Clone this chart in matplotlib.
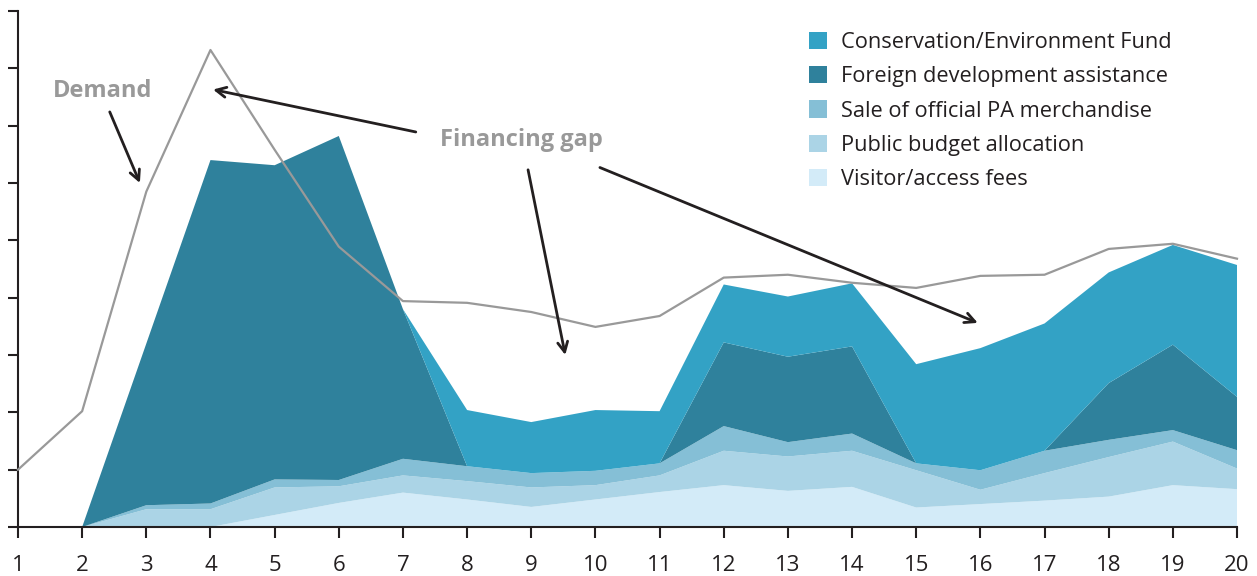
import matplotlib
matplotlib.use("Agg")
import matplotlib.pyplot as plt
from matplotlib.patches import Patch

plt.rcParams['font.family'] = ['Open Sans', 'DejaVu Sans']

years = list(range(1, 21))
demand = [1.00, 2.02, 5.85, 8.32, 6.58, 4.89, 3.94, 3.91, 3.75, 3.49,
          3.68, 4.35, 4.40, 4.26, 4.17, 4.38, 4.40, 4.85, 4.94, 4.68]
visitor = [0, 0, 0, 0, 0.21, 0.42, 0.60, 0.48, 0.35, 0.48,
           0.61, 0.73, 0.63, 0.70, 0.34, 0.40, 0.46, 0.53, 0.73, 0.66]
public = [0, 0, 0.31, 0.31, 0.48, 0.29, 0.30, 0.32, 0.34, 0.25,
          0.29, 0.60, 0.60, 0.63, 0.65, 0.25, 0.48, 0.69, 0.76, 0.36]
sale = [0, 0, 0.07, 0.10, 0.14, 0.11, 0.29, 0.26, 0.25, 0.25,
        0.21, 0.43, 0.25, 0.30, 0.12, 0.34, 0.39, 0.30, 0.20, 0.32]
foreign = [0, 0, 2.82, 5.99, 5.48, 6.00, 2.61, 0, 0, 0,
           0, 1.46, 1.49, 1.52, 0, 0, 0, 0.99, 1.49, 0.93]
conservation = [0, 0, 0, 0, 0, 0, 0, 0.98, 0.89, 1.06,
                0.91, 1.01, 1.05, 1.10, 1.73, 2.13, 2.22, 1.93, 1.74, 2.30]

labels = ["Visitor/access fees", "Public budget allocation",
          "Sale of official PA merchandise", "Foreign development assistance",
          "Conservation/Environment Fund"]
colors = ["#D3EBF8", "#ABD4E6", "#85BFD6", "#2F819C", "#33A2C5"]

fig = plt.figure(figsize=(12.57, 5.76), dpi=100)
ax = fig.add_axes([18/1257, 49/576, (1237-18)/1257, (527-11)/576])

ax.stackplot(years, visitor, public, sale, foreign, conservation,
             colors=colors, linewidth=0, edgecolor='none', antialiased=True)
ax.plot(years, demand, color='#999999', lw=1.6, clip_on=False, zorder=3)

ax.set_xlim(1, 20)
ax.set_ylim(0, 9)
ax.set_xticks(years)
ax.set_yticks(range(0, 10))
ax.set_yticklabels([])
ax.tick_params(axis='x', direction='out', length=8, width=1.5, colors='#231F20',
               labelsize=16, pad=12)
ax.tick_params(axis='y', direction='out', length=7, width=1.5, colors='#231F20')
for s in ['top', 'right']:
    ax.spines[s].set_visible(False)
for s in ['left', 'bottom']:
    ax.spines[s].set_color('#231F20')
    ax.spines[s].set_linewidth(1.5)

handles = [Patch(facecolor=c, edgecolor='none') for c in colors[::-1]]
leg = ax.legend(handles, labels[::-1], loc='upper left',
                bbox_to_anchor=((800-18)/(1237-18), (527-23)/(527-11)),
                frameon=False, fontsize=15.7, handlelength=0.85, handleheight=0.85,
                handletextpad=0.62, labelspacing=0.6, borderaxespad=0)
for t in leg.get_texts():
    t.set_color('#231F20')

arrow_kw = dict(arrowstyle='->', lw=2, color='#231F20', mutation_scale=18,
                shrinkA=0, shrinkB=0)
ax.text(2.32, 7.60, "Demand", color='#999999', fontsize=17, fontweight='bold',
        ha='center', va='center')
ax.annotate("", xy=(2.90, 6.00), xytext=(2.43, 7.24), arrowprops=arrow_kw)
ax.text(8.84, 6.75, "Financing gap", color='#999999', fontsize=17,
        fontweight='bold', ha='center', va='center')
ax.annotate("", xy=(4.04, 7.63), xytext=(7.20, 6.89), arrowprops=arrow_kw)
ax.annotate("", xy=(9.53, 3.00), xytext=(8.95, 6.23), arrowprops=arrow_kw)
ax.annotate("", xy=(15.96, 3.56), xytext=(10.07, 6.27), arrowprops=arrow_kw)

fig.savefig("out.png", dpi=100)
